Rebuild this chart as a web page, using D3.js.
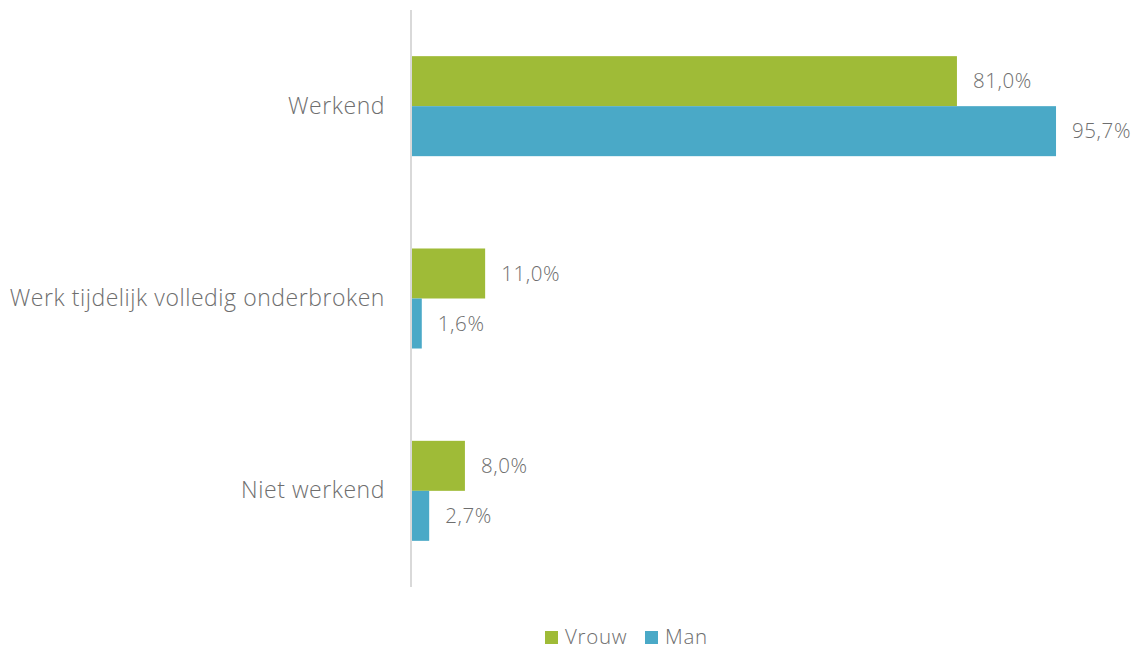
<!DOCTYPE html>
<html>
<head>
<meta charset="utf-8">
<script src="https://cdn.jsdelivr.net/npm/d3@7"></script>
<style>
  html, body { margin: 0; padding: 0; background: #fff; }
  svg { display: block; font-family: "Open Sans", "Noto Sans", sans-serif; font-weight: 350; }
</style>
</head>
<body>
<svg id="chart" width="1138" height="647"></svg>
<script>
// Arbeidssituatie naar geslacht (%)
const categories = ["Werkend", "Werk tijdelijk volledig onderbroken", "Niet werkend"];
const seriesNames = ["Vrouw", "Man"];
const vrouw = [81.0, 11.0, 8.0];
const man = [95.7, 1.6, 2.7];
const colors = ["#9fbb37", "#4aa9c7"];

const svg = d3.select("#chart");
const textColor = "#6e6e6e";

const x = d3.scaleLinear().domain([0, 100]).range([411, 1085]);
const y = d3.scaleBand().domain(categories).range([10, 587]).paddingInner(0.48).paddingOuter(0.24);
const sub = d3.scaleBand().domain(seriesNames).range([0, y.bandwidth()]);

const rows = categories.map((c, i) => ({ cat: c, values: [vrouw[i], man[i]] }));

const groups = svg.append("g").selectAll("g").data(rows).join("g")
  .attr("transform", d => `translate(0,${y(d.cat)})`);

groups.selectAll("rect").data(d => d.values.map((v, k) => ({ v, name: seriesNames[k], k })))
  .join("rect")
  .attr("x", x(0))
  .attr("y", d => sub(d.name))
  .attr("width", d => x(d.v) - x(0))
  .attr("height", sub.bandwidth())
  .attr("fill", d => colors[d.k]);

const fmt = v => d3.format(".1f")(v).replace(".", ",") + "%";

groups.selectAll("text.val").data(d => d.values.map((v, k) => ({ v, name: seriesNames[k] })))
  .join("text")
  .attr("class", "val")
  .attr("x", d => x(d.v) + 16)
  .attr("y", d => sub(d.name) + sub.bandwidth() / 2)
  .attr("dy", "0.35em")
  .attr("fill", textColor)
  .attr("font-size", 20.5)
  .attr("letter-spacing", 0.6)
  .text(d => fmt(d.v));

// Category axis
const axis = svg.append("g").attr("transform", `translate(${x(0)},0)`)
  .call(d3.axisLeft(y).tickSize(0).tickPadding(26));
axis.select(".domain").attr("stroke", "#d9d9d9").attr("stroke-width", 2)
  .attr("d", `M0,10V587`);
axis.selectAll("text").attr("fill", textColor).attr("font-size", 23)
  .attr("letter-spacing", 0.55)
  .attr("font-family", "\"Open Sans\", sans-serif").attr("font-weight", 350);

// Legend
const legendItems = [{ name: "Vrouw", x: 545 }, { name: "Man", x: 645 }];
const legend = svg.append("g").selectAll("g").data(legendItems).join("g")
  .attr("transform", d => `translate(${d.x},631)`);
legend.append("rect").attr("width", 13).attr("height", 13)
  .attr("fill", (d, i) => colors[i]);
legend.append("text").attr("x", 20).attr("y", 6).attr("dy", "0.35em")
  .attr("fill", textColor).attr("font-size", 20.5).attr("letter-spacing", 0.7)
  .text(d => d.name);
</script>
</body>
</html>
